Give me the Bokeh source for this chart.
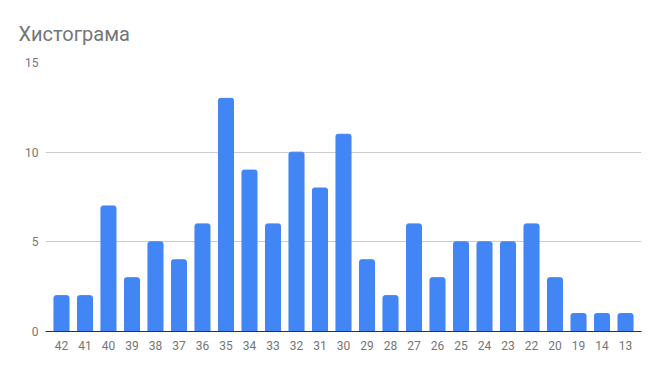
from bokeh.plotting import figure
from bokeh.models import FixedTicker, Range1d, ColumnDataSource
from bokeh.embed import file_html
from bokeh.resources import INLINE

categories = ["42", "41", "40", "39", "38", "37", "36", "35", "34", "33", "32", "31", "30",
              "29", "28", "27", "26", "25", "24", "23", "22", "20", "19", "14", "13"]
counts = [2, 2, 7, 3, 5, 4, 6, 13, 9, 6, 10, 8, 11, 4, 2, 6, 3, 5, 5, 5, 6, 3, 1, 1, 1]
y_ticks = [0, 5, 10, 15]

xs = list(range(len(categories)))
src = ColumnDataSource(dict(x=xs, top=counts))

p = figure(width=651, height=352, output_backend="svg", toolbar_location=None,
           x_range=Range1d(-0.68, len(categories) - 1 + 0.68), y_range=Range1d(0, 15),
           min_border_left=45, min_border_right=10, min_border_top=62, min_border_bottom=20)

p.title.text = "Хистограма"
p.title.text_font = "Roboto"
p.title.text_font_size = "20px"
p.title.text_font_style = "normal"
p.title.text_color = "#757575"
p.title.offset = -27
p.title.standoff = 33

p.vbar(x="x", top="top", width=0.64, source=src, color="#4285F4", border_radius=(2, 2, 0, 0))

p.outline_line_color = None
p.background_fill_color = "white"
p.border_fill_color = "white"

p.xaxis.ticker = FixedTicker(ticks=xs)
p.xaxis.major_label_overrides = {i: c for i, c in zip(xs, categories)}
p.xaxis.axis_line_color = "#333333"
p.xaxis.axis_line_width = 1
p.xaxis.major_tick_line_color = None
p.xaxis.minor_tick_line_color = None
p.xaxis.major_label_text_font = "Roboto"
p.xaxis.major_label_text_font_size = "12px"
p.xaxis.major_label_text_color = "#757575"
p.xaxis.major_label_standoff = 3
p.xgrid.grid_line_color = None

p.yaxis.ticker = FixedTicker(ticks=y_ticks)
p.yaxis.axis_line_color = None
p.yaxis.major_tick_line_color = None
p.yaxis.minor_tick_line_color = None
p.yaxis.major_label_text_font = "Roboto"
p.yaxis.major_label_text_font_size = "12px"
p.yaxis.major_label_text_color = "#757575"
p.yaxis.major_label_standoff = 1
p.ygrid.grid_line_color = "#cccccc"

open("out.html", "w").write(file_html(p, INLINE))
